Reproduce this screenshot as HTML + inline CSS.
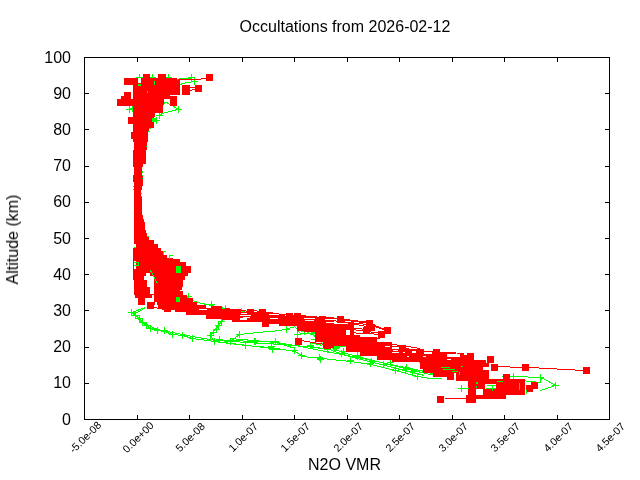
<!DOCTYPE html>
<html><head><meta charset="utf-8"><title>Occultations from 2026-02-12</title>
<style>
html,body{margin:0;padding:0;background:#fff;}
body{width:640px;height:480px;overflow:hidden;font-family:"Liberation Sans",sans-serif;}
svg{display:block;}
svg text{font-family:"Liberation Sans",sans-serif;fill:#000;}
</style></head><body>
<svg width="640" height="480" viewBox="0 0 640 480">
<rect x="0" y="0" width="640" height="480" fill="#fff"/>
<g shape-rendering="crispEdges">
<polyline points="417.5,376.5 430.5,378.5 441.5,378.5" fill="none" stroke="#00ff00" stroke-width="1"/>
<polyline points="420.5,370.5 432.5,373.5 436.5,376.5" fill="none" stroke="#00ff00" stroke-width="1"/>
<polyline points="400.5,366.5 425.5,373.5 440.5,376.5" fill="none" stroke="#00ff00" stroke-width="1"/>
<polyline points="230.5,341.5 267.5,343.5 294.5,345.5 314.5,347.5 327.5,349.5" fill="none" stroke="#00ff00" stroke-width="1"/>
<polyline points="295.5,327.5 300.5,333.5 315.5,333.5" fill="none" stroke="#00ff00" stroke-width="1"/>
<polyline points="230.5,338.5 275.5,342.5 295.5,348.5" fill="none" stroke="#00ff00" stroke-width="1"/>
<polyline points="300.5,324.5 312.5,330.5 325.5,344.5 334.5,349.5 346.5,353.5 360.5,357.5 377.5,361.5 392.5,365.5 421.5,372.5" fill="none" stroke="#00ff00" stroke-width="1"/>
<polyline points="300.5,328.5 315.5,336.5 322.5,343.5 331.5,350.5 346.5,355.5 360.5,359.5 377.5,363.5 392.5,367.5 424.5,375.5" fill="none" stroke="#00ff00" stroke-width="1"/>
<polyline points="310.5,332.5 315.5,332.5" fill="none" stroke="#00ff00" stroke-width="1"/>
<polyline points="310.5,334.5 316.5,335.5" fill="none" stroke="#00ff00" stroke-width="1"/>
<polyline points="310.5,339.5 315.5,339.5" fill="none" stroke="#00ff00" stroke-width="1"/>
<polyline points="310.5,342.5 322.5,345.5" fill="none" stroke="#00ff00" stroke-width="1"/>
<polyline points="310.5,346.5 322.5,348.5 331.5,349.5" fill="none" stroke="#00ff00" stroke-width="1"/>
<polyline points="330.5,346.5 346.5,346.5" fill="none" stroke="#00ff00" stroke-width="1"/>
<polyline points="300.5,322.5 314.5,326.5" fill="none" stroke="#00ff00" stroke-width="1"/>
<polyline points="300.5,326.5 312.5,327.5" fill="none" stroke="#00ff00" stroke-width="1"/>
<polyline points="177.5,79.5 180.5,78.5 191.5,78.5" fill="none" stroke="#00ff00" stroke-width="1"/>
<polyline points="180.5,84.5 182.5,83.5 187.5,82.5 194.5,81.5" fill="none" stroke="#00ff00" stroke-width="1"/>
<polyline points="158.5,104.5 166.5,102.5 175.5,107.5 178.5,109.5" fill="none" stroke="#00ff00" stroke-width="1"/>
<polyline points="178.5,109.5 165.5,112.5 157.5,115.5" fill="none" stroke="#00ff00" stroke-width="1"/>
<polyline points="145.5,307.5 131.5,312.5 135.5,315.5 139.5,318.5 142.5,322.5 146.5,325.5 150.5,328.5 157.5,330.5 164.5,331.5 172.5,334.5 182.5,335.5 192.5,338.5 214.5,341.5 245.5,345.5 270.5,347.5 295.5,351.5 302.5,356.5 350.5,361.5 370.5,364.5 395.5,370.5 417.5,376.5" fill="none" stroke="#00ff00" stroke-width="1"/>
<polyline points="145.5,307.5 139.5,311.5 134.5,313.5 139.5,320.5 146.5,324.5 157.5,329.5 192.5,336.5 215.5,340.5 270.5,341.5 295.5,345.5 320.5,350.5 357.5,357.5 390.5,364.5 420.5,370.5" fill="none" stroke="#00ff00" stroke-width="1"/>
<polyline points="215.5,340.5 280.5,344.5" fill="none" stroke="#00ff00" stroke-width="1"/>
<polyline points="215.5,341.5 280.5,349.5" fill="none" stroke="#00ff00" stroke-width="1"/>
<polyline points="222.5,320.5 210.5,335.5 214.5,341.5" fill="none" stroke="#00ff00" stroke-width="1"/>
<polyline points="230.5,341.5 239.5,334.5 257.5,332.5 280.5,330.5 295.5,326.5" fill="none" stroke="#00ff00" stroke-width="1"/>
<polyline points="180.5,294.5 197.5,302.5 211.5,305.5 225.5,308.5 241.5,311.5" fill="none" stroke="#00ff00" stroke-width="1"/>
<polyline points="510.5,376.5 544.5,377.5" fill="none" stroke="#00ff00" stroke-width="1"/>
<polyline points="520.5,380.5 540.5,382.5 541.5,377.5" fill="none" stroke="#00ff00" stroke-width="1"/>
<polyline points="541.5,377.5 548.5,381.5 555.5,385.5 540.5,390.5" fill="none" stroke="#00ff00" stroke-width="1"/>
<rect x="294" y="334" width="7" height="1" fill="#00ff00"/><rect x="297" y="331" width="1" height="7" fill="#00ff00"/>
<rect x="301" y="331" width="7" height="1" fill="#00ff00"/><rect x="304" y="328" width="1" height="7" fill="#00ff00"/>
<rect x="312" y="333" width="7" height="1" fill="#00ff00"/><rect x="315" y="330" width="1" height="7" fill="#00ff00"/>
<rect x="307" y="345" width="7" height="1" fill="#00ff00"/><rect x="310" y="342" width="1" height="7" fill="#00ff00"/>
<rect x="317" y="359" width="7" height="1" fill="#00ff00"/><rect x="320" y="356" width="1" height="7" fill="#00ff00"/>
<rect x="324" y="349" width="7" height="1" fill="#00ff00"/><rect x="327" y="346" width="1" height="7" fill="#00ff00"/>
<rect x="332" y="348" width="7" height="1" fill="#00ff00"/><rect x="335" y="345" width="1" height="7" fill="#00ff00"/>
<rect x="251" y="341" width="7" height="1" fill="#00ff00"/><rect x="254" y="338" width="1" height="7" fill="#00ff00"/>
<rect x="242" y="345" width="7" height="1" fill="#00ff00"/><rect x="245" y="342" width="1" height="7" fill="#00ff00"/>
<rect x="268" y="346" width="7" height="1" fill="#00ff00"/><rect x="271" y="343" width="1" height="7" fill="#00ff00"/>
<rect x="269" y="349" width="7" height="1" fill="#00ff00"/><rect x="272" y="346" width="1" height="7" fill="#00ff00"/>
<rect x="331" y="347" width="7" height="1" fill="#00ff00"/><rect x="334" y="344" width="1" height="7" fill="#00ff00"/>
<rect x="333" y="347" width="7" height="1" fill="#00ff00"/><rect x="336" y="344" width="1" height="7" fill="#00ff00"/>
<rect x="340" y="351" width="7" height="1" fill="#00ff00"/><rect x="343" y="348" width="1" height="7" fill="#00ff00"/>
<rect x="354" y="355" width="7" height="1" fill="#00ff00"/><rect x="357" y="352" width="1" height="7" fill="#00ff00"/>
<rect x="302" y="325" width="7" height="1" fill="#00ff00"/><rect x="305" y="322" width="1" height="7" fill="#00ff00"/>
<rect x="307" y="328" width="7" height="1" fill="#00ff00"/><rect x="310" y="325" width="1" height="7" fill="#00ff00"/>
<rect x="323" y="346" width="7" height="1" fill="#00ff00"/><rect x="326" y="343" width="1" height="7" fill="#00ff00"/>
<rect x="338" y="353" width="7" height="1" fill="#00ff00"/><rect x="341" y="350" width="1" height="7" fill="#00ff00"/>
<rect x="368" y="361" width="7" height="1" fill="#00ff00"/><rect x="371" y="358" width="1" height="7" fill="#00ff00"/>
<rect x="380" y="364" width="7" height="1" fill="#00ff00"/><rect x="383" y="361" width="1" height="7" fill="#00ff00"/>
<rect x="402" y="369" width="7" height="1" fill="#00ff00"/><rect x="405" y="366" width="1" height="7" fill="#00ff00"/>
<rect x="409" y="371" width="7" height="1" fill="#00ff00"/><rect x="412" y="368" width="1" height="7" fill="#00ff00"/>
<rect x="188" y="77" width="7" height="1" fill="#00ff00"/><rect x="191" y="74" width="1" height="7" fill="#00ff00"/>
<rect x="191" y="81" width="7" height="1" fill="#00ff00"/><rect x="194" y="78" width="1" height="7" fill="#00ff00"/>
<rect x="136" y="77" width="7" height="1" fill="#00ff00"/><rect x="139" y="74" width="1" height="7" fill="#00ff00"/>
<rect x="149" y="77" width="7" height="1" fill="#00ff00"/><rect x="152" y="74" width="1" height="7" fill="#00ff00"/>
<rect x="165" y="77" width="7" height="1" fill="#00ff00"/><rect x="168" y="74" width="1" height="7" fill="#00ff00"/>
<rect x="126" y="109" width="7" height="1" fill="#00ff00"/><rect x="129" y="106" width="1" height="7" fill="#00ff00"/>
<rect x="129" y="108" width="7" height="1" fill="#00ff00"/><rect x="132" y="105" width="1" height="7" fill="#00ff00"/>
<rect x="175" y="109" width="7" height="1" fill="#00ff00"/><rect x="178" y="106" width="1" height="7" fill="#00ff00"/>
<rect x="156" y="115" width="7" height="1" fill="#00ff00"/><rect x="159" y="112" width="1" height="7" fill="#00ff00"/>
<rect x="153" y="120" width="7" height="1" fill="#00ff00"/><rect x="156" y="117" width="1" height="7" fill="#00ff00"/>
<rect x="128" y="312" width="7" height="1" fill="#00ff00"/><rect x="131" y="309" width="1" height="7" fill="#00ff00"/>
<rect x="132" y="315" width="7" height="1" fill="#00ff00"/><rect x="135" y="312" width="1" height="7" fill="#00ff00"/>
<rect x="136" y="318" width="7" height="1" fill="#00ff00"/><rect x="139" y="315" width="1" height="7" fill="#00ff00"/>
<rect x="139" y="322" width="7" height="1" fill="#00ff00"/><rect x="142" y="319" width="1" height="7" fill="#00ff00"/>
<rect x="143" y="325" width="7" height="1" fill="#00ff00"/><rect x="146" y="322" width="1" height="7" fill="#00ff00"/>
<rect x="147" y="328" width="7" height="1" fill="#00ff00"/><rect x="150" y="325" width="1" height="7" fill="#00ff00"/>
<rect x="154" y="330" width="7" height="1" fill="#00ff00"/><rect x="157" y="327" width="1" height="7" fill="#00ff00"/>
<rect x="161" y="330" width="7" height="1" fill="#00ff00"/><rect x="164" y="327" width="1" height="7" fill="#00ff00"/>
<rect x="169" y="334" width="7" height="1" fill="#00ff00"/><rect x="172" y="331" width="1" height="7" fill="#00ff00"/>
<rect x="179" y="335" width="7" height="1" fill="#00ff00"/><rect x="182" y="332" width="1" height="7" fill="#00ff00"/>
<rect x="189" y="338" width="7" height="1" fill="#00ff00"/><rect x="192" y="335" width="1" height="7" fill="#00ff00"/>
<rect x="211" y="341" width="7" height="1" fill="#00ff00"/><rect x="214" y="338" width="1" height="7" fill="#00ff00"/>
<rect x="216" y="339" width="7" height="1" fill="#00ff00"/><rect x="219" y="336" width="1" height="7" fill="#00ff00"/>
<rect x="227" y="341" width="7" height="1" fill="#00ff00"/><rect x="230" y="338" width="1" height="7" fill="#00ff00"/>
<rect x="242" y="345" width="7" height="1" fill="#00ff00"/><rect x="245" y="342" width="1" height="7" fill="#00ff00"/>
<rect x="252" y="341" width="7" height="1" fill="#00ff00"/><rect x="255" y="338" width="1" height="7" fill="#00ff00"/>
<rect x="269" y="349" width="7" height="1" fill="#00ff00"/><rect x="272" y="346" width="1" height="7" fill="#00ff00"/>
<rect x="272" y="341" width="7" height="1" fill="#00ff00"/><rect x="275" y="338" width="1" height="7" fill="#00ff00"/>
<rect x="236" y="334" width="7" height="1" fill="#00ff00"/><rect x="239" y="331" width="1" height="7" fill="#00ff00"/>
<rect x="218" y="321" width="7" height="1" fill="#00ff00"/><rect x="221" y="318" width="1" height="7" fill="#00ff00"/>
<rect x="215" y="325" width="7" height="1" fill="#00ff00"/><rect x="218" y="322" width="1" height="7" fill="#00ff00"/>
<rect x="213" y="329" width="7" height="1" fill="#00ff00"/><rect x="216" y="326" width="1" height="7" fill="#00ff00"/>
<rect x="210" y="332" width="7" height="1" fill="#00ff00"/><rect x="213" y="329" width="1" height="7" fill="#00ff00"/>
<rect x="207" y="335" width="7" height="1" fill="#00ff00"/><rect x="210" y="332" width="1" height="7" fill="#00ff00"/>
<rect x="185" y="296" width="7" height="1" fill="#00ff00"/><rect x="188" y="293" width="1" height="7" fill="#00ff00"/>
<rect x="208" y="304" width="7" height="1" fill="#00ff00"/><rect x="211" y="301" width="1" height="7" fill="#00ff00"/>
<rect x="222" y="308" width="7" height="1" fill="#00ff00"/><rect x="225" y="305" width="1" height="7" fill="#00ff00"/>
<rect x="238" y="311" width="7" height="1" fill="#00ff00"/><rect x="241" y="308" width="1" height="7" fill="#00ff00"/>
<rect x="272" y="341" width="7" height="1" fill="#00ff00"/><rect x="275" y="338" width="1" height="7" fill="#00ff00"/>
<rect x="291" y="350" width="7" height="1" fill="#00ff00"/><rect x="294" y="347" width="1" height="7" fill="#00ff00"/>
<rect x="298" y="355" width="7" height="1" fill="#00ff00"/><rect x="301" y="352" width="1" height="7" fill="#00ff00"/>
<rect x="316" y="357" width="7" height="1" fill="#00ff00"/><rect x="319" y="354" width="1" height="7" fill="#00ff00"/>
<rect x="347" y="360" width="7" height="1" fill="#00ff00"/><rect x="350" y="357" width="1" height="7" fill="#00ff00"/>
<rect x="354" y="356" width="7" height="1" fill="#00ff00"/><rect x="357" y="353" width="1" height="7" fill="#00ff00"/>
<rect x="367" y="363" width="7" height="1" fill="#00ff00"/><rect x="370" y="360" width="1" height="7" fill="#00ff00"/>
<rect x="387" y="362" width="7" height="1" fill="#00ff00"/><rect x="390" y="359" width="1" height="7" fill="#00ff00"/>
<rect x="392" y="370" width="7" height="1" fill="#00ff00"/><rect x="395" y="367" width="1" height="7" fill="#00ff00"/>
<rect x="403" y="367" width="7" height="1" fill="#00ff00"/><rect x="406" y="364" width="1" height="7" fill="#00ff00"/>
<rect x="414" y="376" width="7" height="1" fill="#00ff00"/><rect x="417" y="373" width="1" height="7" fill="#00ff00"/>
<rect x="419" y="362" width="7" height="1" fill="#00ff00"/><rect x="422" y="359" width="1" height="7" fill="#00ff00"/>
<rect x="283" y="329" width="7" height="1" fill="#00ff00"/><rect x="286" y="326" width="1" height="7" fill="#00ff00"/>
<rect x="458" y="388" width="7" height="1" fill="#00ff00"/><rect x="461" y="385" width="1" height="7" fill="#00ff00"/>
<rect x="510" y="376" width="7" height="1" fill="#00ff00"/><rect x="513" y="373" width="1" height="7" fill="#00ff00"/>
<rect x="537" y="377" width="7" height="1" fill="#00ff00"/><rect x="540" y="374" width="1" height="7" fill="#00ff00"/>
<rect x="552" y="385" width="7" height="1" fill="#00ff00"/><rect x="555" y="382" width="1" height="7" fill="#00ff00"/>
<polyline points="300.5,315.5 322.5,317.5 345.5,319.5 369.5,322.5" fill="none" stroke="#ff0000" stroke-width="1"/>
<polyline points="340.5,321.5 366.5,326.5" fill="none" stroke="#ff0000" stroke-width="1"/>
<polyline points="335.5,325.5 365.5,329.5" fill="none" stroke="#ff0000" stroke-width="1"/>
<polyline points="345.5,328.5 381.5,333.5" fill="none" stroke="#ff0000" stroke-width="1"/>
<polyline points="347.5,332.5 382.5,334.5" fill="none" stroke="#ff0000" stroke-width="1"/>
<polyline points="355.5,337.5 380.5,338.5" fill="none" stroke="#ff0000" stroke-width="1"/>
<polyline points="322.5,319.5 367.5,324.5 387.5,330.5" fill="none" stroke="#ff0000" stroke-width="1"/>
<polyline points="387.5,345.5 402.5,347.5 419.5,351.5 436.5,351.5 460.5,355.5" fill="none" stroke="#ff0000" stroke-width="1"/>
<polyline points="380.5,342.5 420.5,348.5" fill="none" stroke="#ff0000" stroke-width="1"/>
<polyline points="405.5,349.5 440.5,353.5" fill="none" stroke="#ff0000" stroke-width="1"/>
<polyline points="250.5,310.5 262.5,311.5 289.5,315.5 297.5,315.5 322.5,318.5" fill="none" stroke="#ff0000" stroke-width="1"/>
<polyline points="225.5,308.5 250.5,311.5" fill="none" stroke="#ff0000" stroke-width="1"/>
<polyline points="269.5,313.5 300.5,318.5" fill="none" stroke="#ff0000" stroke-width="1"/>
<polyline points="177.5,79.5 195.5,79.5 206.5,78.5" fill="none" stroke="#ff0000" stroke-width="1"/>
<polyline points="189.5,87.5 195.5,87.5" fill="none" stroke="#ff0000" stroke-width="1"/>
<polyline points="189.5,90.5 195.5,89.5" fill="none" stroke="#ff0000" stroke-width="1"/>
<polyline points="154.5,307.5 164.5,309.5" fill="none" stroke="#ff0000" stroke-width="1"/>
<polyline points="301.5,340.5 324.5,344.5" fill="none" stroke="#ff0000" stroke-width="1"/>
<polyline points="444.5,398.5 467.5,398.5" fill="none" stroke="#ff0000" stroke-width="1"/>
<polyline points="497.5,366.5 522.5,367.5" fill="none" stroke="#ff0000" stroke-width="1"/>
<polyline points="529.5,367.5 583.5,370.5" fill="none" stroke="#ff0000" stroke-width="1"/>
<polyline points="322.5,319.5 340.5,319.5 369.5,323.5 387.5,330.5" fill="none" stroke="#ff0000" stroke-width="1"/>
<polyline points="340.5,321.5 371.5,327.5" fill="none" stroke="#ff0000" stroke-width="1"/>
<rect x="124" y="78" width="14" height="7" fill="#ff0000"/>
<rect x="143" y="74" width="7" height="7" fill="#ff0000"/>
<rect x="158" y="74" width="8" height="7" fill="#ff0000"/>
<rect x="133" y="78" width="44" height="17" fill="#ff0000"/>
<rect x="177" y="80" width="3" height="15" fill="#ff0000"/>
<rect x="182" y="85" width="8" height="10" fill="#ff0000"/>
<rect x="124" y="92" width="7" height="7" fill="#ff0000"/>
<rect x="121" y="96" width="7" height="7" fill="#ff0000"/>
<rect x="117" y="99" width="16" height="7" fill="#ff0000"/>
<rect x="133" y="95" width="31" height="10" fill="#ff0000"/>
<rect x="155" y="105" width="8" height="8" fill="#ff0000"/>
<rect x="170" y="96" width="7" height="10" fill="#ff0000"/>
<rect x="164" y="95" width="6" height="4" fill="#ff0000"/>
<rect x="133" y="105" width="22" height="12" fill="#ff0000"/>
<rect x="128" y="117" width="26" height="7" fill="#ff0000"/>
<rect x="133" y="124" width="21" height="4" fill="#ff0000"/>
<rect x="133" y="128" width="16" height="4" fill="#ff0000"/>
<rect x="131" y="132" width="17" height="7" fill="#ff0000"/>
<rect x="133" y="139" width="15" height="3" fill="#ff0000"/>
<rect x="134" y="142" width="13" height="8" fill="#ff0000"/>
<rect x="133" y="150" width="13" height="14" fill="#ff0000"/>
<rect x="133" y="164" width="10" height="3" fill="#ff0000"/>
<rect x="134" y="167" width="8" height="8" fill="#ff0000"/>
<rect x="133" y="175" width="10" height="7" fill="#ff0000"/>
<rect x="134" y="182" width="9" height="4" fill="#ff0000"/>
<rect x="134" y="186" width="8" height="4" fill="#ff0000"/>
<rect x="134" y="190" width="7" height="7" fill="#ff0000"/>
<rect x="134" y="197" width="8" height="18" fill="#ff0000"/>
<rect x="134" y="215" width="9" height="4" fill="#ff0000"/>
<rect x="134" y="219" width="10" height="3" fill="#ff0000"/>
<rect x="134" y="222" width="11" height="8" fill="#ff0000"/>
<rect x="134" y="230" width="12" height="3" fill="#ff0000"/>
<rect x="134" y="233" width="13" height="4" fill="#ff0000"/>
<rect x="134" y="237" width="15" height="3" fill="#ff0000"/>
<rect x="134" y="240" width="20" height="4" fill="#ff0000"/>
<rect x="136" y="244" width="22" height="4" fill="#ff0000"/>
<rect x="133" y="248" width="28" height="3" fill="#ff0000"/>
<rect x="133" y="251" width="30" height="4" fill="#ff0000"/>
<rect x="133" y="255" width="34" height="3" fill="#ff0000"/>
<rect x="133" y="258" width="40" height="1" fill="#ff0000"/>
<rect x="133" y="259" width="47" height="3" fill="#ff0000"/>
<rect x="133" y="262" width="53" height="4" fill="#ff0000"/>
<rect x="133" y="266" width="58" height="7" fill="#ff0000"/>
<rect x="133" y="273" width="55" height="3" fill="#ff0000"/>
<rect x="133" y="276" width="52" height="4" fill="#ff0000"/>
<rect x="134" y="280" width="49" height="7" fill="#ff0000"/>
<rect x="134" y="287" width="48" height="3" fill="#ff0000"/>
<rect x="134" y="290" width="46" height="5" fill="#ff0000"/>
<rect x="135" y="294" width="17" height="4" fill="#ff0000"/>
<rect x="138" y="298" width="7" height="7" fill="#ff0000"/>
<rect x="154" y="291" width="29" height="4" fill="#ff0000"/>
<rect x="154" y="295" width="33" height="3" fill="#ff0000"/>
<rect x="154" y="298" width="39" height="4" fill="#ff0000"/>
<rect x="154" y="302" width="43" height="3" fill="#ff0000"/>
<rect x="158" y="302" width="39" height="7" fill="#ff0000"/>
<rect x="164" y="305" width="7" height="7" fill="#ff0000"/>
<rect x="171" y="305" width="4" height="5" fill="#ff0000"/>
<rect x="175" y="305" width="11" height="7" fill="#ff0000"/>
<rect x="186" y="305" width="20" height="10" fill="#ff0000"/>
<rect x="197" y="308" width="14" height="7" fill="#ff0000"/>
<rect x="206" y="308" width="16" height="11" fill="#ff0000"/>
<rect x="211" y="306" width="11" height="13" fill="#ff0000"/>
<rect x="222" y="309" width="10" height="11" fill="#ff0000"/>
<rect x="232" y="309" width="9" height="13" fill="#ff0000"/>
<rect x="241" y="312" width="9" height="10" fill="#ff0000"/>
<rect x="240" y="312" width="29" height="10" fill="#ff0000"/>
<rect x="262" y="316" width="7" height="11" fill="#ff0000"/>
<rect x="269" y="313" width="10" height="11" fill="#ff0000"/>
<rect x="279" y="316" width="25" height="10" fill="#ff0000"/>
<rect x="304" y="317" width="16" height="15" fill="#ff0000"/>
<rect x="315" y="331" width="5" height="11" fill="#ff0000"/>
<rect x="310" y="317" width="24" height="13" fill="#ff0000"/>
<rect x="315" y="330" width="19" height="12" fill="#ff0000"/>
<rect x="323" y="330" width="11" height="18" fill="#ff0000"/>
<rect x="334" y="324" width="20" height="22" fill="#ff0000"/>
<rect x="346" y="335" width="14" height="17" fill="#ff0000"/>
<rect x="360" y="337" width="17" height="19" fill="#ff0000"/>
<rect x="377" y="342" width="15" height="18" fill="#ff0000"/>
<rect x="380" y="344" width="12" height="15" fill="#ff0000"/>
<rect x="392" y="349" width="32" height="13" fill="#ff0000"/>
<rect x="420" y="349" width="3" height="20" fill="#ff0000"/>
<rect x="423" y="352" width="33" height="21" fill="#ff0000"/>
<rect x="433" y="373" width="14" height="4" fill="#ff0000"/>
<rect x="447" y="373" width="7" height="7" fill="#ff0000"/>
<rect x="456" y="363" width="33" height="18" fill="#ff0000"/>
<rect x="455" y="355" width="19" height="9" fill="#ff0000"/>
<rect x="474" y="360" width="12" height="4" fill="#ff0000"/>
<rect x="468" y="381" width="8" height="22" fill="#ff0000"/>
<rect x="475" y="380" width="8" height="9" fill="#ff0000"/>
<rect x="475" y="395" width="24" height="4" fill="#ff0000"/>
<rect x="466" y="395" width="10" height="8" fill="#ff0000"/>
<rect x="483" y="379" width="12" height="20" fill="#ff0000"/>
<rect x="495" y="379" width="30" height="16" fill="#ff0000"/>
<rect x="195" y="85" width="7" height="7" fill="#ff0000"/>
<rect x="206" y="74" width="7" height="7" fill="#ff0000"/>
<rect x="147" y="302" width="7" height="7" fill="#ff0000"/>
<rect x="247" y="309" width="7" height="7" fill="#ff0000"/>
<rect x="259" y="309" width="7" height="7" fill="#ff0000"/>
<rect x="286" y="313" width="7" height="7" fill="#ff0000"/>
<rect x="294" y="313" width="7" height="7" fill="#ff0000"/>
<rect x="297" y="324" width="7" height="7" fill="#ff0000"/>
<rect x="295" y="338" width="7" height="7" fill="#ff0000"/>
<rect x="324" y="342" width="7" height="7" fill="#ff0000"/>
<rect x="319" y="316" width="7" height="7" fill="#ff0000"/>
<rect x="337" y="316" width="7" height="7" fill="#ff0000"/>
<rect x="366" y="320" width="7" height="7" fill="#ff0000"/>
<rect x="368" y="324" width="7" height="7" fill="#ff0000"/>
<rect x="363" y="327" width="7" height="7" fill="#ff0000"/>
<rect x="378" y="331" width="7" height="7" fill="#ff0000"/>
<rect x="384" y="327" width="7" height="7" fill="#ff0000"/>
<rect x="384" y="342" width="7" height="7" fill="#ff0000"/>
<rect x="399" y="345" width="7" height="7" fill="#ff0000"/>
<rect x="416" y="349" width="7" height="7" fill="#ff0000"/>
<rect x="433" y="349" width="7" height="7" fill="#ff0000"/>
<rect x="457" y="353" width="7" height="7" fill="#ff0000"/>
<rect x="467" y="353" width="7" height="7" fill="#ff0000"/>
<rect x="487" y="356" width="7" height="7" fill="#ff0000"/>
<rect x="491" y="364" width="7" height="7" fill="#ff0000"/>
<rect x="437" y="396" width="7" height="7" fill="#ff0000"/>
<rect x="503" y="374" width="7" height="7" fill="#ff0000"/>
<rect x="522" y="364" width="7" height="7" fill="#ff0000"/>
<rect x="583" y="367" width="7" height="7" fill="#ff0000"/>
<rect x="531" y="382" width="7" height="7" fill="#ff0000"/>
<rect x="526" y="385" width="7" height="7" fill="#ff0000"/>
<rect x="499" y="392" width="7" height="7" fill="#ff0000"/>
<rect x="467" y="396" width="7" height="7" fill="#ff0000"/>
<rect x="392" y="352" width="7" height="1" fill="#fff"/>
<rect x="403" y="352" width="2" height="1" fill="#fff"/>
<rect x="407" y="356" width="2" height="1" fill="#fff"/>
<rect x="412" y="351" width="4" height="2" fill="#fff"/>
<rect x="424" y="352" width="8" height="2" fill="#fff"/>
<rect x="423" y="356" width="3" height="1" fill="#fff"/>
<rect x="447" y="354" width="13" height="3" fill="#fff"/>
<rect x="447" y="359" width="4" height="1" fill="#fff"/>
<rect x="240" y="315" width="11" height="1" fill="#fff"/>
<rect x="240" y="318" width="7" height="2" fill="#fff"/>
<rect x="199" y="309" width="8" height="1" fill="#fff"/>
<rect x="241" y="313" width="6" height="1" fill="#fff"/>
<rect x="243" y="317" width="7" height="1" fill="#fff"/>
<rect x="269" y="314" width="10" height="1" fill="#fff"/>
<rect x="270" y="318" width="8" height="1" fill="#fff"/>
<rect x="304" y="318" width="11" height="1" fill="#fff"/>
<rect x="305" y="320" width="9" height="1" fill="#fff"/>
<rect x="346" y="330" width="4" height="5" fill="#fff"/>
<rect x="476" y="358" width="10" height="2" fill="#fff"/>
<rect x="483" y="367" width="6" height="3" fill="#fff"/>
<rect x="385" y="346" width="5" height="1" fill="#fff"/>
<rect x="393" y="350" width="5" height="1" fill="#fff"/>
<rect x="325" y="319" width="12" height="1" fill="#fff"/>
<rect x="326" y="322" width="10" height="1" fill="#fff"/>
<rect x="138" y="78" width="3" height="5" fill="#fff"/>
<rect x="146" y="273" width="4" height="3" fill="#fff"/>
<rect x="144" y="276" width="10" height="4" fill="#fff"/>
<rect x="147" y="280" width="7" height="7" fill="#fff"/>
<rect x="150" y="287" width="4" height="7" fill="#fff"/>
<rect x="133" y="244" width="3" height="4" fill="#fff"/>
<rect x="134" y="261" width="2" height="8" fill="#fff"/>
<rect x="146" y="298" width="7" height="3" fill="#fff"/>
<rect x="155" y="302" width="2" height="3" fill="#fff"/>
<rect x="485" y="384" width="11" height="5" fill="#fff"/>
<polyline points="486.5,385.5 495.5,385.5" fill="none" stroke="#00ff00" stroke-width="1"/>
<polyline points="485.5,388.5 495.5,388.5" fill="none" stroke="#00ff00" stroke-width="1"/>
<polyline points="492.5,385.5 492.5,390.5" fill="none" stroke="#00ff00" stroke-width="1"/>
<polyline points="460.5,388.5 468.5,388.5" fill="none" stroke="#00ff00" stroke-width="1"/>
<polyline points="150.5,270.5 157.5,283.5" fill="none" stroke="#00ff00" stroke-width="1"/>
<rect x="441" y="367" width="9" height="1" fill="#00ff00"/>
<rect x="443" y="369" width="12" height="1" fill="#00ff00"/>
<rect x="452" y="371" width="6" height="1" fill="#00ff00"/>
<rect x="461" y="366" width="2" height="1" fill="#00ff00"/>
<rect x="459" y="372" width="1" height="3" fill="#00ff00"/>
<rect x="476" y="382" width="2" height="2" fill="#00ff00"/>
<rect x="476" y="386" width="1" height="2" fill="#00ff00"/>
<rect x="502" y="376" width="1" height="1" fill="#00ff00"/>
<rect x="519" y="383" width="1" height="7" fill="#00ff00"/>
<rect x="526" y="390" width="1" height="4" fill="#00ff00"/>
<rect x="497" y="381" width="6" height="1" fill="#00ff00"/>
<rect x="149" y="128" width="2" height="1" fill="#00ff00"/>
<rect x="148" y="131" width="2" height="1" fill="#00ff00"/>
<rect x="146" y="146" width="1" height="1" fill="#00ff00"/>
<rect x="142" y="172" width="1" height="1" fill="#00ff00"/>
<rect x="142" y="171" width="1" height="1" fill="#00ff00"/>
<rect x="142" y="175" width="1" height="1" fill="#00ff00"/>
<rect x="142" y="178" width="1" height="1" fill="#00ff00"/>
<rect x="133" y="186" width="1" height="1" fill="#00ff00"/>
<rect x="133" y="189" width="1" height="1" fill="#00ff00"/>
<rect x="141" y="193" width="1" height="1" fill="#00ff00"/>
<rect x="141" y="196" width="1" height="1" fill="#00ff00"/>
<rect x="138" y="84" width="3" height="2" fill="#00ff00"/>
<rect x="147" y="91" width="1" height="2" fill="#00ff00"/>
<rect x="154" y="81" width="1" height="4" fill="#00ff00"/>
<rect x="152" y="118" width="4" height="4" fill="#00ff00"/>
<rect x="147" y="236" width="2" height="1" fill="#00ff00"/>
<rect x="163" y="251" width="3" height="1" fill="#00ff00"/>
<rect x="163" y="252" width="1" height="3" fill="#00ff00"/>
<rect x="169" y="255" width="4" height="1" fill="#00ff00"/>
<rect x="169" y="256" width="1" height="3" fill="#00ff00"/>
<rect x="134" y="247" width="2" height="1" fill="#00ff00"/>
<rect x="134" y="262" width="5" height="1" fill="#00ff00"/>
<rect x="134" y="265" width="5" height="1" fill="#00ff00"/>
<rect x="138" y="262" width="1" height="4" fill="#00ff00"/>
<rect x="176" y="266" width="5" height="7" fill="#00ff00"/>
<rect x="176" y="297" width="4" height="5" fill="#00ff00"/>
<rect x="84" y="57" width="526" height="1" fill="#000"/>
<rect x="84" y="419" width="526" height="1" fill="#000"/>
<rect x="84" y="57" width="1" height="363" fill="#000"/>
<rect x="609" y="57" width="1" height="363" fill="#000"/>
<rect x="84" y="383" width="5" height="1" fill="#000"/>
<rect x="605" y="383" width="5" height="1" fill="#000"/>
<rect x="84" y="347" width="5" height="1" fill="#000"/>
<rect x="605" y="347" width="5" height="1" fill="#000"/>
<rect x="84" y="310" width="5" height="1" fill="#000"/>
<rect x="605" y="310" width="5" height="1" fill="#000"/>
<rect x="84" y="274" width="5" height="1" fill="#000"/>
<rect x="605" y="274" width="5" height="1" fill="#000"/>
<rect x="84" y="238" width="5" height="1" fill="#000"/>
<rect x="605" y="238" width="5" height="1" fill="#000"/>
<rect x="84" y="202" width="5" height="1" fill="#000"/>
<rect x="605" y="202" width="5" height="1" fill="#000"/>
<rect x="84" y="166" width="5" height="1" fill="#000"/>
<rect x="605" y="166" width="5" height="1" fill="#000"/>
<rect x="84" y="129" width="5" height="1" fill="#000"/>
<rect x="605" y="129" width="5" height="1" fill="#000"/>
<rect x="84" y="93" width="5" height="1" fill="#000"/>
<rect x="605" y="93" width="5" height="1" fill="#000"/>
<rect x="137" y="415" width="1" height="5" fill="#000"/>
<rect x="137" y="57" width="1" height="5" fill="#000"/>
<rect x="189" y="415" width="1" height="5" fill="#000"/>
<rect x="189" y="57" width="1" height="5" fill="#000"/>
<rect x="242" y="415" width="1" height="5" fill="#000"/>
<rect x="242" y="57" width="1" height="5" fill="#000"/>
<rect x="294" y="415" width="1" height="5" fill="#000"/>
<rect x="294" y="57" width="1" height="5" fill="#000"/>
<rect x="347" y="415" width="1" height="5" fill="#000"/>
<rect x="347" y="57" width="1" height="5" fill="#000"/>
<rect x="399" y="415" width="1" height="5" fill="#000"/>
<rect x="399" y="57" width="1" height="5" fill="#000"/>
<rect x="452" y="415" width="1" height="5" fill="#000"/>
<rect x="452" y="57" width="1" height="5" fill="#000"/>
<rect x="504" y="415" width="1" height="5" fill="#000"/>
<rect x="504" y="57" width="1" height="5" fill="#000"/>
<rect x="557" y="415" width="1" height="5" fill="#000"/>
<rect x="557" y="57" width="1" height="5" fill="#000"/>
</g>
<g style="opacity:0.999">
<text x="345" y="32" font-size="16" text-anchor="middle">Occultations from 2026-02-12</text>
<text x="344.5" y="470" font-size="16" text-anchor="middle">N2O VMR</text>
<text transform="translate(18,239.5) rotate(-90)" font-size="16" text-anchor="middle">Altitude (km)</text>
<text x="71" y="424.5" font-size="16" text-anchor="end">0</text>
<text x="71" y="388.3" font-size="16" text-anchor="end">10</text>
<text x="71" y="352.1" font-size="16" text-anchor="end">20</text>
<text x="71" y="315.9" font-size="16" text-anchor="end">30</text>
<text x="71" y="279.7" font-size="16" text-anchor="end">40</text>
<text x="71" y="243.5" font-size="16" text-anchor="end">50</text>
<text x="71" y="207.3" font-size="16" text-anchor="end">60</text>
<text x="71" y="171.1" font-size="16" text-anchor="end">70</text>
<text x="71" y="134.9" font-size="16" text-anchor="end">80</text>
<text x="71" y="98.7" font-size="16" text-anchor="end">90</text>
<text x="71" y="62.5" font-size="16" text-anchor="end">100</text>
<text transform="translate(85.0,437) rotate(-45)" font-size="10.67" text-anchor="middle" dominant-baseline="central">-5.0e-08</text>
<text transform="translate(138.0,437) rotate(-45)" font-size="10.67" text-anchor="middle" dominant-baseline="central">0.0e+00</text>
<text transform="translate(190.0,437) rotate(-45)" font-size="10.67" text-anchor="middle" dominant-baseline="central">5.0e-08</text>
<text transform="translate(243.0,437) rotate(-45)" font-size="10.67" text-anchor="middle" dominant-baseline="central">1.0e-07</text>
<text transform="translate(295.0,437) rotate(-45)" font-size="10.67" text-anchor="middle" dominant-baseline="central">1.5e-07</text>
<text transform="translate(348.0,437) rotate(-45)" font-size="10.67" text-anchor="middle" dominant-baseline="central">2.0e-07</text>
<text transform="translate(400.0,437) rotate(-45)" font-size="10.67" text-anchor="middle" dominant-baseline="central">2.5e-07</text>
<text transform="translate(453.0,437) rotate(-45)" font-size="10.67" text-anchor="middle" dominant-baseline="central">3.0e-07</text>
<text transform="translate(505.0,437) rotate(-45)" font-size="10.67" text-anchor="middle" dominant-baseline="central">3.5e-07</text>
<text transform="translate(558.0,437) rotate(-45)" font-size="10.67" text-anchor="middle" dominant-baseline="central">4.0e-07</text>
<text transform="translate(610.0,437) rotate(-45)" font-size="10.67" text-anchor="middle" dominant-baseline="central">4.5e-07</text>
</g>
</svg>
</body></html>
